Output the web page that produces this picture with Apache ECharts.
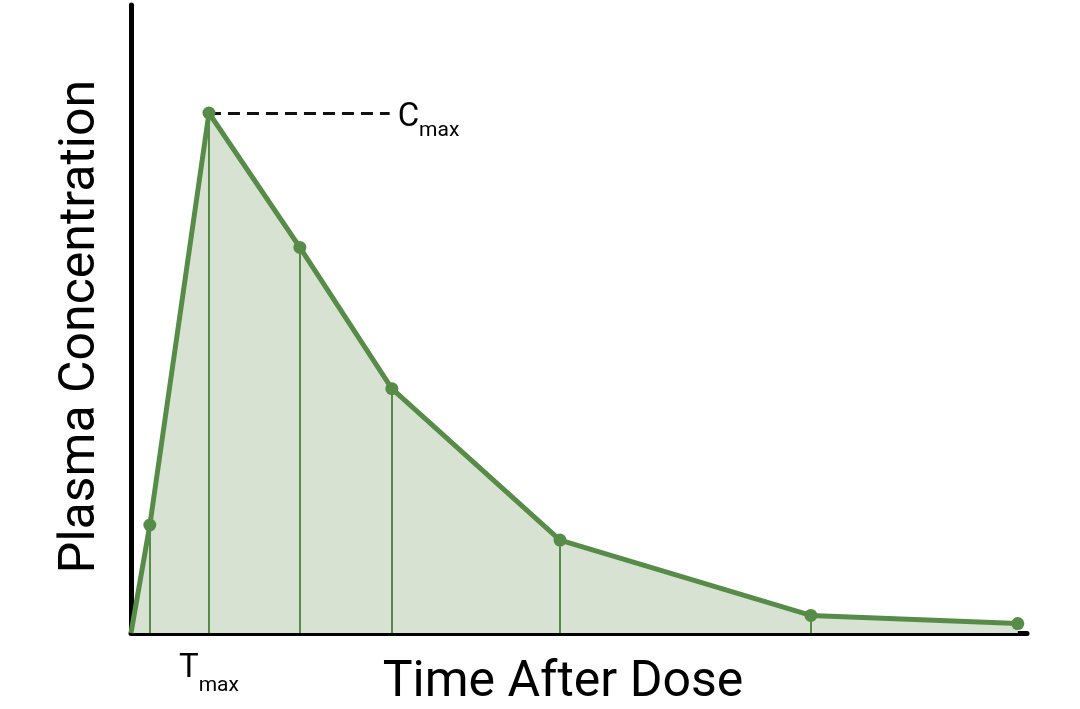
<!DOCTYPE html>
<html>
<head>
<meta charset="utf-8">
<script src="https://cdn.jsdelivr.net/npm/echarts@6/dist/echarts.min.js"></script>
<style>
html,body{margin:0;padding:0;background:#fff;}
#chart{width:1080px;height:709px;}
</style>
</head>
<body>
<div id="chart"></div>
<script>
// Sample times (arbitrary time units) and plasma concentrations (arbitrary units)
const times = [0, 0.51, 2.11, 4.57, 7.06, 11.61, 18.4, 24.0];
const concentrations = [0, 17.2, 82.8, 61.4, 38.9, 14.8, 2.8, 1.5];
// Indices of samples that get a vertical drop line to the baseline
const dropIndices = [1, 2, 3, 4, 5, 6];
const tmaxIndex = 2;
const cmaxLineEnd = 7.0;
const xMax = 24.25;
const yMax = 100;
const xAxisTitle = 'Time After Dose';
const yAxisTitle = 'Plasma Concentration';

const green = '#578c48';
const fill = '#d7e2d3';
const font = 'Roboto, "Liberation Sans", sans-serif';

const seriesData = times.map((t, i) => [t, concentrations[i]]);
const tmax = times[tmaxIndex];
const cmax = concentrations[tmaxIndex];

const dropLines = dropIndices.map(i => [
  { coord: [times[i], 0] },
  { coord: [times[i], concentrations[i]] }
]);

const chart = echarts.init(document.getElementById('chart'), null, { renderer: 'canvas' });
chart.setOption({
  animation: false,
  backgroundColor: '#fff',
  grid: { left: 131, right: 53, top: 5, bottom: 76, containLabel: false, outerBoundsMode: 'none' },
  xAxis: {
    type: 'value',
    min: 0,
    max: xMax,
    name: xAxisTitle,
    nameLocation: 'middle',
    nameGap: 25,
    nameMoveOverlap: false,
    nameTextStyle: { fontFamily: font, fontSize: 50, color: '#000', verticalAlign: 'top', padding: [0, 32, 0, 0] },
    axisLine: { show: true, lineStyle: { color: '#000', width: 5 } },
    axisTick: { show: false },
    splitLine: { show: false },
    axisLabel: {
      show: true,
      customValues: [tmax],
      margin: 19,
      formatter: () => '{t|T}{s|max}',
      rich: {
        t: { fontFamily: font, fontSize: 33, color: '#000', lineHeight: 33, verticalAlign: 'top' },
        s: { fontFamily: font, fontSize: 21, color: '#000', lineHeight: 44, verticalAlign: 'bottom' }
      }
    }
  },
  yAxis: {
    type: 'value',
    min: 0,
    max: yMax,
    name: yAxisTitle,
    nameLocation: 'middle',
    nameGap: 25,
    nameMoveOverlap: false,
    nameTextStyle: { fontFamily: font, fontSize: 50, color: '#000', padding: [0, 15, 0, 0] },
    axisLine: { show: true, lineStyle: { color: '#000', width: 5 } },
    axisTick: { show: false },
    axisLabel: { show: false },
    splitLine: { show: false }
  },
  series: [
    {
      type: 'line',
      name: 'Plasma Concentration',
      data: seriesData,
      z: 5,
      symbol: 'circle',
      symbolSize: (v, p) => (p.dataIndex === 0 ? 0 : 13),
      showAllSymbol: true,
      lineStyle: { color: green, width: 5 },
      itemStyle: { color: green },
      areaStyle: { color: fill, opacity: 1, origin: 'start' },
      markLine: {
        silent: true,
        symbol: 'none',
        animation: false,
        lineStyle: { color: '#111', width: 3, type: [12, 7] },
        label: {
          show: true,
          position: 'end',
          distance: 8,
          offset: [0, 8],
          formatter: () => '{c|C}{s|max}',
          rich: {
            c: { fontFamily: font, fontSize: 33, color: '#000', lineHeight: 33, verticalAlign: 'top' },
            s: { fontFamily: font, fontSize: 21, color: '#000', lineHeight: 40, verticalAlign: 'bottom' }
          }
        },
        data: [[{ coord: [tmax, cmax] }, { coord: [cmaxLineEnd, cmax] }]]
      }
    },
    {
      type: 'line',
      name: 'drops',
      data: seriesData,
      z: 6,
      silent: true,
      showSymbol: false,
      symbol: 'none',
      lineStyle: { opacity: 0, width: 0 },
      markLine: {
        silent: true,
        symbol: 'none',
        animation: false,
        z: 6,
        label: { show: false },
        lineStyle: { color: green, width: 2, type: 'solid' },
        data: dropLines
      }
    }
  ]
});
</script>
</body>
</html>
